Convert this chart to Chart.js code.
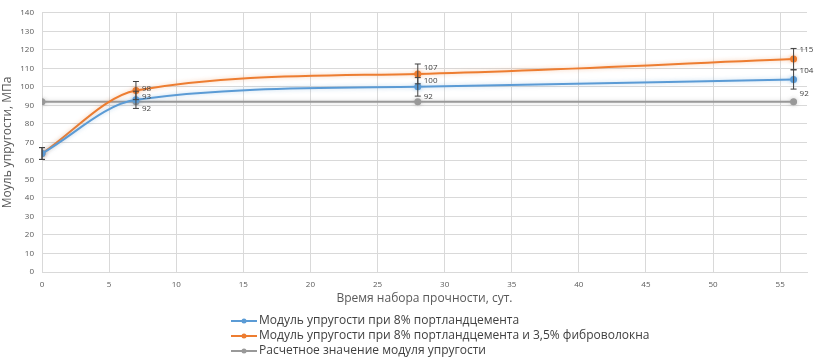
<!DOCTYPE html>
<html>
<head>
<meta charset="utf-8">
<script src="https://cdn.jsdelivr.net/npm/chart.js@4"></script>
<style>
  html, body { margin: 0; padding: 0; background: #fff; }
  #wrap { width: 818px; height: 364px; }
</style>
</head>
<body>
<div id="wrap"><canvas id="chart" width="818" height="364"></canvas></div>
<script>
// days of curing
const days = [0, 7, 28, 56];
// elastic modulus, MPa
const modulusCement = [64, 93, 100, 104];
const modulusFiber = [64, 98, 107, 115];
const modulusDesign = [92, 92, 92, 92];
const errorShare = 0.05;

const seriesNames = [
    "Модуль упругости при 8% портландцемента",
    "Модуль упругости при 8% портландцемента и 3,5% фиброволокна",
    "Расчетное значение модуля упругости"
];

const FONT = "'Open Sans', 'Noto Sans', sans-serif";

function toPoints(values) {
    return days.map((d, i) => ({ x: d, y: values[i] }));
}

// label shift (px) per series, per point
const labelShift = [
    [null, [6, -3], [6, -6], [6, -9]],
    [null, [6, -2], [6, -6], [6, -9]],
    [null, [6, 7], [6, -5], [6, -8]]
];
// which series get error bars
const withErrors = [true, true, false];

// Function to draw error bars and value labels
const extras = {
    id: "extras",
    beforeDatasetDraw(chart, args) {
        const ds = chart.data.datasets[args.index];
        chart.ctx.save();
        chart.ctx.shadowColor = ds.borderColor + "66";
        chart.ctx.shadowBlur = 4;
    },
    afterDatasetDraw(chart) {
        chart.ctx.restore();
    },
    afterDatasetsDraw(chart) {
        const ctx = chart.ctx;
        const y = chart.scales.y;
        ctx.save();
        ctx.strokeStyle = "#404040";
        ctx.lineWidth = 1;
        chart.data.datasets.forEach((ds, di) => {
            if (!withErrors[di]) return;
            const meta = chart.getDatasetMeta(di);
            meta.data.forEach((pt, i) => {
                const v = ds.data[i].y;
                const top = y.getPixelForValue(v * (1 + errorShare));
                const bot = y.getPixelForValue(v * (1 - errorShare));
                ctx.beginPath();
                ctx.moveTo(pt.x, top); ctx.lineTo(pt.x, bot);
                ctx.moveTo(pt.x - 3, top); ctx.lineTo(pt.x + 3, top);
                ctx.moveTo(pt.x - 3, bot); ctx.lineTo(pt.x + 3, bot);
                ctx.stroke();
            });
        });
        ctx.fillStyle = "#404040";
        ctx.font = "8px " + FONT;
        ctx.textAlign = "left";
        ctx.textBaseline = "middle";
        chart.data.datasets.forEach((ds, di) => {
            const meta = chart.getDatasetMeta(di);
            meta.data.forEach((pt, i) => {
                const s = labelShift[di][i];
                if (!s) return;
                ctx.fillText(String(ds.data[i].y), pt.x + s[0], pt.y + s[1]);
            });
        });
        ctx.restore();
    },
    afterDraw(chart) {
        const ctx = chart.ctx;
        ctx.save();
        ctx.font = "12px " + FONT;
        ctx.textBaseline = "middle";
        ctx.textAlign = "left";
        const x0 = 231, rowY = [321, 336, 351];
        chart.data.datasets.forEach((ds, di) => {
            const yy = rowY[di];
            ctx.strokeStyle = ds.borderColor;
            ctx.lineWidth = 2;
            ctx.beginPath();
            ctx.moveTo(x0, yy); ctx.lineTo(x0 + 26, yy);
            ctx.stroke();
            ctx.fillStyle = ds.borderColor;
            ctx.beginPath();
            ctx.arc(x0 + 13, yy, 2.5, 0, Math.PI * 2);
            ctx.fill();
            ctx.fillStyle = "#404040";
            ctx.fillText(ds.label, x0 + 28, yy);
        });
        ctx.restore();
    }
};

function makeSet(label, values, color, smooth) {
    return {
        label: label,
        data: toPoints(values),
        borderColor: color,
        backgroundColor: color,
        borderWidth: 2,
        pointRadius: 2.5,
        pointHoverRadius: 2.5,
        cubicInterpolationMode: smooth ? "monotone" : "default",
        tension: 0,
        fill: false
    };
}

new Chart(document.getElementById("chart"), {
    type: "line",
    data: {
        datasets: [
            makeSet(seriesNames[0], modulusCement, "#5b9bd5", true),
            makeSet(seriesNames[1], modulusFiber, "#ed7d31", true),
            makeSet(seriesNames[2], modulusDesign, "#999999", false)
        ]
    },
    options: {
        responsive: false,
        animation: false,
        layout: { padding: { top: 7, right: 11, bottom: 54, left: 0 } },
        plugins: {
            legend: { display: false },
            tooltip: { enabled: false }
        },
        scales: {
            x: {
                type: "linear",
                min: 0,
                max: 57,
                afterFit(s) { s.height = 38; },
                afterBuildTicks(s) {
                    s.ticks = [0, 5, 10, 15, 20, 25, 30, 35, 40, 45, 50, 55].map(v => ({ value: v }));
                },
                grid: { color: "#d9d9d9", drawTicks: false },
                border: { color: "#d9d9d9" },
                ticks: { color: "#595959", font: { family: FONT, size: 8 }, padding: 8, maxRotation: 0 },
                title: {
                    display: true,
                    text: "Время набора прочности, сут.",
                    color: "#595959",
                    font: { family: FONT, size: 12 },
                    padding: { top: 1 }
                }
            },
            y: {
                min: 0,
                max: 140,
                afterFit(s) { s.width = 42; },
                grid: { color: "#d9d9d9", drawTicks: false },
                border: { color: "#d9d9d9" },
                ticks: { stepSize: 10, color: "#595959", font: { family: FONT, size: 8 }, padding: 8 },
                title: {
                    display: true,
                    text: "Моуль упругости, МПа",
                    color: "#595959",
                    font: { family: FONT, size: 12 },
                    padding: 0
                }
            }
        }
    },
    plugins: [extras]
});
</script>
</body>
</html>
